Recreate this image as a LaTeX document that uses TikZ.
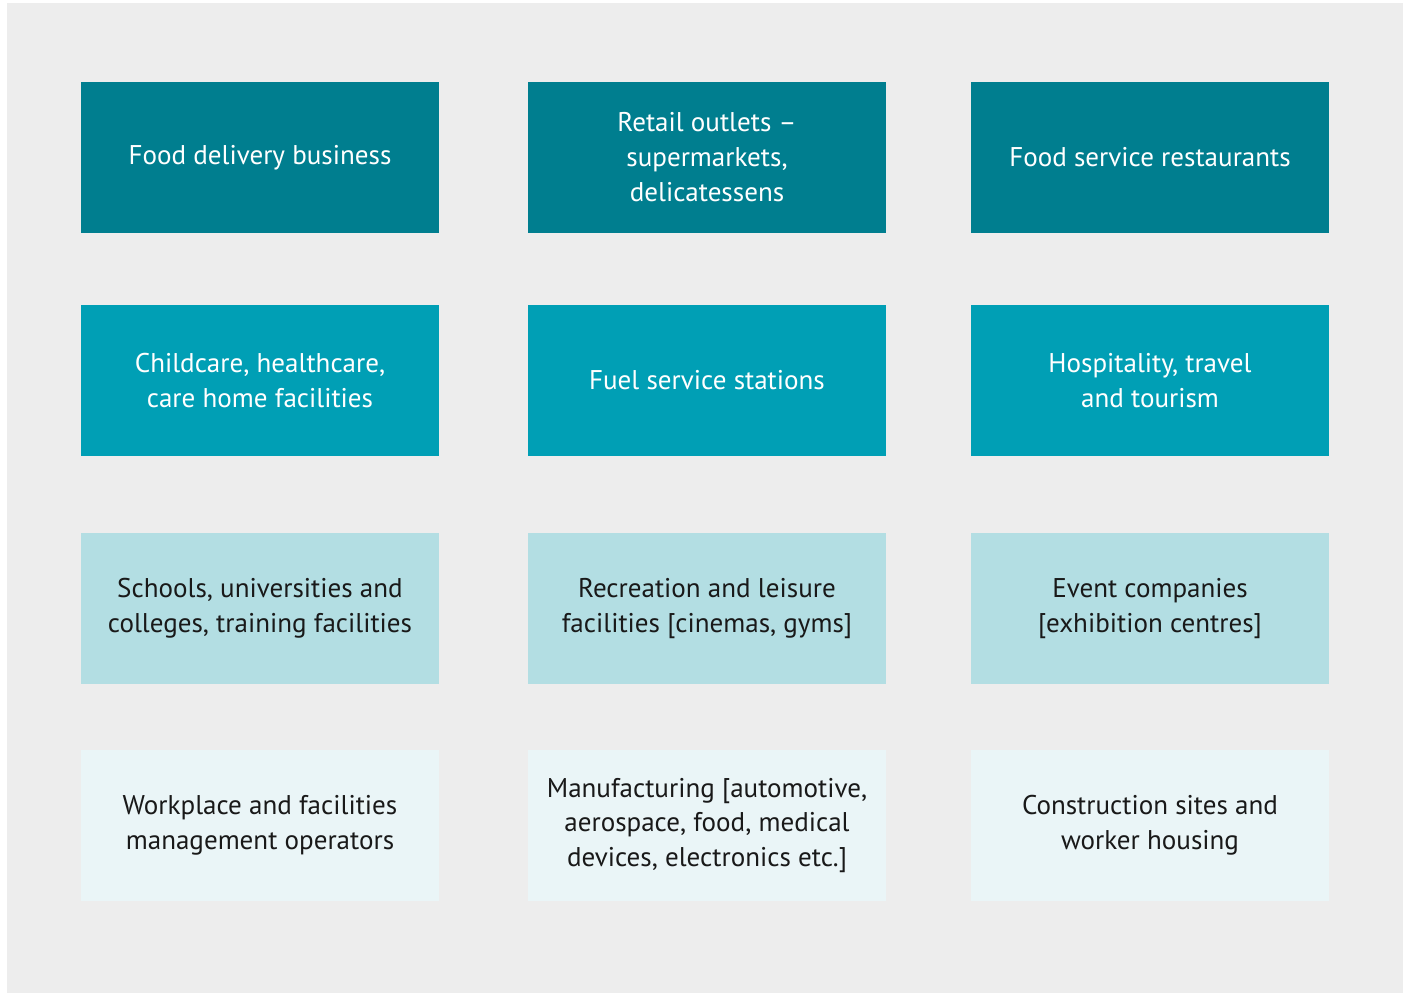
\documentclass[tikz,border=0pt]{standalone}
\usepackage{fontspec}
\setmainfont{PT Sans}
\usetikzlibrary{positioning}

\definecolor{darkteal}{HTML}{007E8F}
\definecolor{midteal}{HTML}{009FB5}
\definecolor{paleteal}{HTML}{B3DEE3}
\definecolor{mistteal}{HTML}{EAF5F7}
\definecolor{panelgrey}{HTML}{EDEDED}

\tikzset{
  block/.style={minimum width=7.16cm, minimum height=3.02cm, align=center,
    inner sep=0pt, font=\fontsize{15.4}{19.9}\selectfont},
  darkblock/.style={block, fill=darkteal, text=white},
  midblock/.style={block, fill=midteal, text=white},
  paleblock/.style={block, fill=paleteal, text=black!90},
  mistblock/.style={block, fill=mistteal, text=black!90}
}

\begin{document}
\begin{tikzpicture}[x=0.02cm, y=-0.02cm]
        \useasboundingbox (0, 0) rectangle (1407, 993);
        \fill[panelgrey] (7, 3) rectangle (1403, 993);

        % Blocks
        \node[darkblock] (delivery) at (260, 157.5) {Food delivery business};
        \node[darkblock] (retail) at (707, 157.5) {Retail outlets --\\supermarkets,\\delicatessens};
        \node[darkblock] (restaurants) at (1150, 157.5) {Food service restaurants};

        \node[midblock] (care) at (260, 380.5) {Childcare, healthcare,\\care home facilities};
        \node[midblock] (fuel) at (707, 380.5) {Fuel service stations};
        \node[midblock] (hospitality) at (1150, 380.5) {Hospitality, travel\\and tourism};

        \node[paleblock] (schools) at (260, 608.5) {Schools, universities and\\colleges, training facilities};
        \node[paleblock] (leisure) at (707, 608.5) {Recreation and leisure\\facilities [cinemas, gyms]};
        \node[paleblock] (events) at (1150, 608.5) {Event companies\\{[exhibition centres]}};

        \node[mistblock] (workplace) at (260, 825.5) {Workplace and facilities\\management operators};
        \node[mistblock] (manufacturing) at (707, 825.5) {Manufacturing [automotive,\\aerospace, food, medical\\devices, electronics etc.]};
        \node[mistblock] (construction) at (1150, 825.5) {Construction sites and\\worker housing};
\end{tikzpicture}
\end{document}
